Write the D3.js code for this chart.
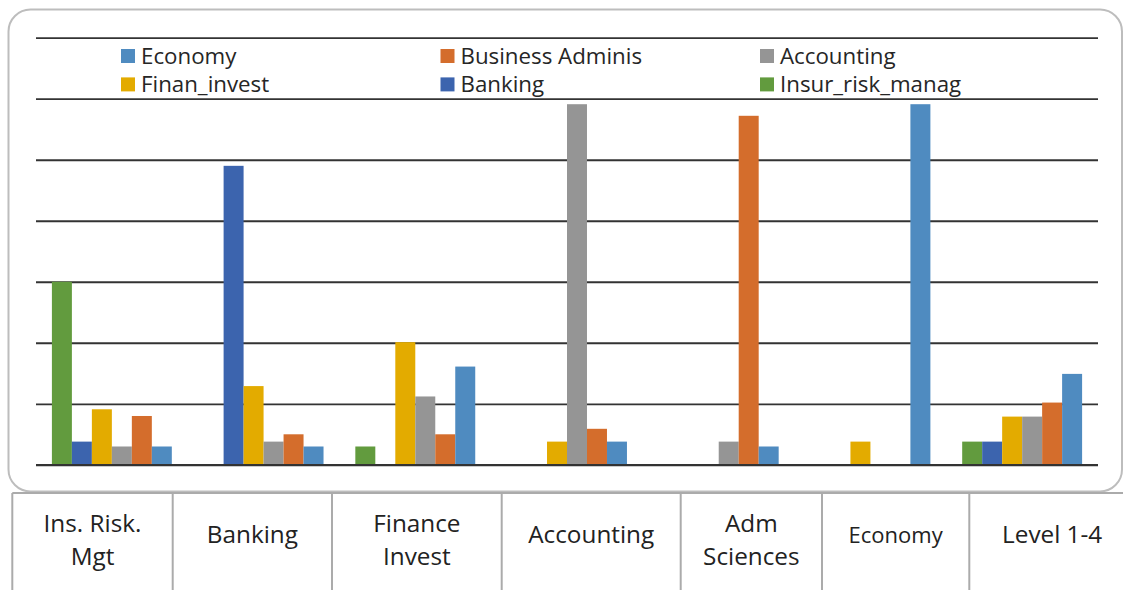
<!DOCTYPE html>
<html>
<head>
<meta charset="utf-8">
<script src="https://cdn.jsdelivr.net/npm/d3@7"></script>
<style>
    body { margin: 0; background: #fff; }
    svg { display: block; font-family: "Open Sans", sans-serif; }
</style>
</head>
<body>
<svg id="drawing_region"></svg>
<script>
// categories (table below the chart)
const categoryLines = [
    ['Ins. Risk.', 'Mgt'],
    ['Banking'],
    ['Finance', 'Invest'],
    ['Accounting'],
    ['Adm', 'Sciences'],
    ['Economy'],
    ['Level 1-4']
];
const categories = categoryLines.map(d => d.join(' '));

// series values, one per category
const economy         = [3.0, 3.0, 16.1, 3.8, 3.0, 59.1, 14.9];
const businessAdminis = [8.0, 5.0, 5.0, 5.9, 57.2, 0, 10.2];
const accounting      = [3.0, 3.8, 11.2, 59.1, 3.8, 0, 7.9];
const finanInvest     = [9.1, 12.9, 20.1, 3.8, 0, 3.8, 7.9];
const banking         = [3.8, 49.0, 0, 0, 0, 0, 3.8];
const insurRiskManag  = [30.0, 0, 3.0, 0, 0, 0, 3.8];

const gridTicks = [0, 10, 20, 30, 40, 50, 60, 70];

// legend order, and the order bars sit in a group
const legendNames = ['Economy', 'Business Adminis', 'Accounting', 'Finan_invest', 'Banking', 'Insur_risk_manag'];
const barOrder = ['Insur_risk_manag', 'Banking', 'Finan_invest', 'Accounting', 'Business Adminis', 'Economy'];

const seriesValues = {
    'Economy': economy,
    'Business Adminis': businessAdminis,
    'Accounting': accounting,
    'Finan_invest': finanInvest,
    'Banking': banking,
    'Insur_risk_manag': insurRiskManag
};
const colors = {
    'Economy': '#4f8bc0',
    'Business Adminis': '#d46d2c',
    'Accounting': '#959595',
    'Finan_invest': '#e3ab00',
    'Banking': '#3c64ae',
    'Insur_risk_manag': '#629b3e'
};

// table column edges (layout)
const cellEdges = [12.3, 172.7, 332, 501.7, 680.7, 822, 969.3, 1135];

const data = [];
categories.forEach((c, i) => {
    barOrder.forEach(s => data.push({ category: c, series: s, value: seriesValues[s][i] }));
});

const svg = d3.select('#drawing_region')
    .attr('width', 1123)
    .attr('height', 590);

// rounded frame
svg.append('rect')
    .attr('x', 8.5).attr('y', 9.5)
    .attr('width', 1113.5).attr('height', 482)
    .attr('rx', 22).attr('ry', 22)
    .attr('fill', '#fff')
    .attr('stroke', '#bdbdbd')
    .attr('stroke-width', 2);

const left = 36, right = 1098;

const xscale = d3.scaleBand()
    .domain(categories)
    .range([left, right]);

const bw = xscale.bandwidth();
const xinner = d3.scaleBand()
    .domain(barOrder)
    .range([15.9, bw - 15.9]);

const yscale = d3.scaleLinear()
    .domain([0, 70])
    .range([464.8, 37.7]);

// gridlines
const yaxis = d3.axisLeft(yscale)
    .tickValues(gridTicks)
    .tickSize(-(right - left))
    .tickFormat('');

svg.append('g')
    .attr('transform', `translate(${left},0)`)
    .call(yaxis)
    .call(g => g.select('.domain').remove())
    .selectAll('.tick line')
    .attr('stroke', '#333')
    .attr('stroke-width', 1.8);

// bars
svg.append('g')
    .selectAll('rect')
    .data(data.filter(d => d.value > 0))
    .join('rect')
    .attr('x', d => xscale(d.category) + xinner(d.series))
    .attr('y', d => yscale(d.value))
    .attr('width', xinner.bandwidth())
    .attr('height', d => yscale(0) - yscale(d.value))
    .attr('fill', d => colors[d.series]);

// baseline on top
svg.append('line')
    .attr('x1', left).attr('x2', right)
    .attr('y1', yscale(0)).attr('y2', yscale(0))
    .attr('stroke', '#333')
    .attr('stroke-width', 1.8);

// legend, 3 columns x 2 rows
const legend = svg.append('g')
    .selectAll('g')
    .data(legendNames)
    .join('g')
    .attr('transform', (d, i) => `translate(${121 + (i % 3) * 319.5}, ${56 + Math.floor(i / 3) * 28.4})`);

legend.append('rect')
    .attr('x', 0).attr('y', -7)
    .attr('width', 14).attr('height', 14)
    .attr('fill', d => colors[d]);

legend.append('text')
    .attr('x', 20)
    .attr('y', 7.8)
    .attr('font-size', 22.3)
    .attr('fill', '#262626')
    .text(d => d);

// category table
const table = svg.append('g');

table.append('line')
    .attr('x1', cellEdges[0]).attr('x2', 1123)
    .attr('y1', 493).attr('y2', 493)
    .attr('stroke', '#ababab')
    .attr('stroke-width', 2);

table.selectAll('line.col')
    .data(cellEdges)
    .join('line')
    .attr('class', 'col')
    .attr('x1', d => d).attr('x2', d => d)
    .attr('y1', 493).attr('y2', 590)
    .attr('stroke', '#ababab')
    .attr('stroke-width', 2);

const cells = table.selectAll('text')
    .data(categoryLines)
    .join('text')
    .attr('text-anchor', 'middle')
    .attr('font-size', (d, i) => categories[i] === 'Economy' ? 22 : 24.3)
    .attr('fill', '#222');

cells.selectAll('tspan')
    .data((d, i) => d.map((t, j) => ({ t, j, n: d.length, cx: (cellEdges[i] + cellEdges[i + 1]) / 2 })))
    .join('tspan')
    .attr('x', d => d.cx)
    .attr('y', d => d.n === 1 ? 543 : 532 + d.j * 33)
    .text(d => d.t);
</script>
</body>
</html>
